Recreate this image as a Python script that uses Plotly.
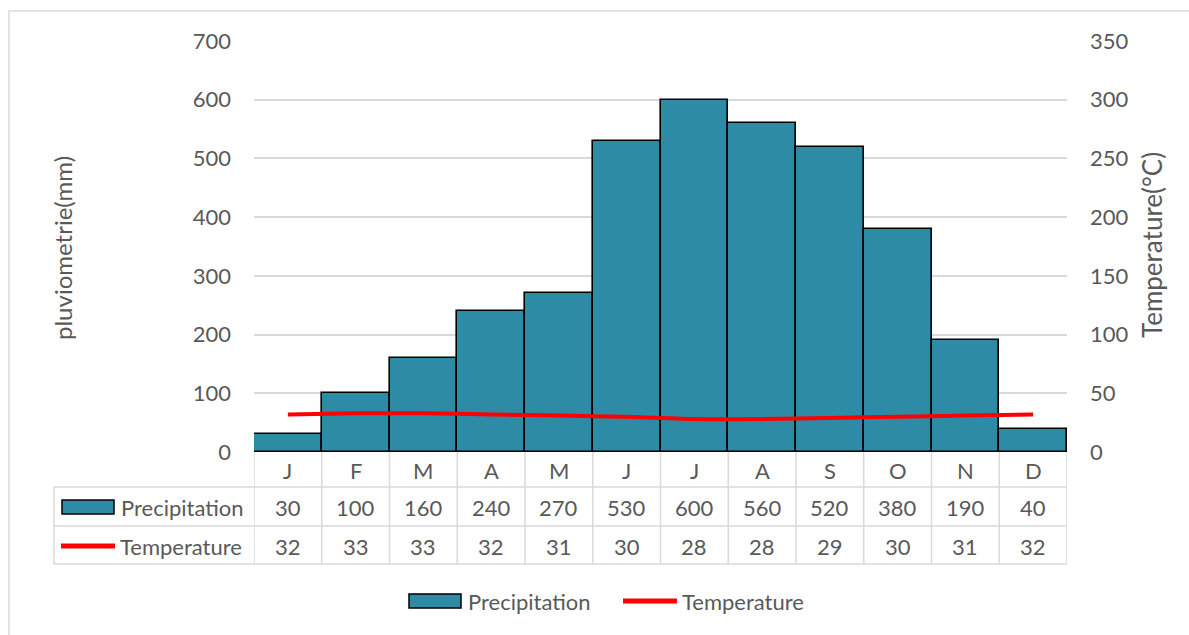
import plotly.graph_objects as go

# Monthly climate data
months = ["J", "F", "M", "A", "M", "J", "J", "A", "S", "O", "N", "D"]
precipitation = [30, 100, 160, 240, 270, 530, 600, 560, 520, 380, 190, 40]
temperature = [32, 33, 33, 32, 31, 30, 28, 28, 29, 30, 31, 32]
left_ticks = [0, 100, 200, 300, 400, 500, 600, 700]
right_ticks = [0, 50, 100, 150, 200, 250, 300, 350]

W, H = 1189, 635
L, R, T, B = 254, 1067, 41, 452          # plot area in pixels
BAR_COLOR = "#2E8BA6"
GRID = "#D9D9D9"
TXT = "#595959"
FONT = "Lato"
FS = 22


def px(x):
    return (x - L) / (R - L)


def py(y):
    return (B - y) / (B - T)


def label(x, y, text, xref="paper", xanchor="center", angle=0, size=FS):
    return dict(x=x, y=y, xref=xref, yref="paper", text=text, textangle=angle,
                xanchor=xanchor, yanchor="middle", showarrow=False,
                font=dict(family=FONT, size=size, color=TXT))


xs = list(range(len(months)))

fig = go.Figure()
fig.add_trace(go.Bar(
    x=xs, y=precipitation, name="Precipitation",
    marker=dict(color=BAR_COLOR, line=dict(color="black", width=1.6)),
    width=1.0, showlegend=False,
))
fig.add_trace(go.Scatter(
    x=xs, y=temperature, name="Temperature", yaxis="y2",
    mode="lines", line=dict(color="#FF0000", width=4, shape="spline", smoothing=0.6),
    showlegend=False,
))

shapes = []
annotations = []

# outer chart frame
shapes.append(dict(type="rect", xref="paper", yref="paper",
                   x0=px(9), x1=px(W + 20), y0=py(11), y1=py(H + 20),
                   line=dict(color=GRID, width=1.5), layer="below"))

# data table grid
for yy in [487, 526, 564]:
    shapes.append(dict(type="line", xref="paper", yref="paper",
                       x0=px(54), x1=1, y0=py(yy), y1=py(yy),
                       line=dict(color=GRID, width=1.5)))
for k in range(len(months) + 1):
    shapes.append(dict(type="line", xref="x", yref="paper",
                       x0=k - 0.5, x1=k - 0.5, y0=0, y1=py(564),
                       line=dict(color=GRID, width=1.5)))
shapes.append(dict(type="line", xref="paper", yref="paper",
                   x0=px(54), x1=px(54), y0=py(487), y1=py(564),
                   line=dict(color=GRID, width=1.5)))

# table cells
row_y = [470, 507, 546]
for k, m in enumerate(months):
    annotations.append(label(k, py(row_y[0]), m, xref="x"))
    annotations.append(label(k, py(row_y[1]), str(precipitation[k]), xref="x"))
    annotations.append(label(k, py(row_y[2]), str(temperature[k]), xref="x"))


def legend_key(x0, yc, text, kind):
    if kind == "bar":
        shapes.append(dict(type="rect", xref="paper", yref="paper",
                           x0=px(x0), x1=px(x0 + 52), y0=py(yc - 7), y1=py(yc + 7),
                           fillcolor=BAR_COLOR, line=dict(color="black", width=1.5)))
    else:
        shapes.append(dict(type="path", xref="paper", yref="paper",
                           path=f"M {px(x0)},{py(yc)} L {px(x0 + 54)},{py(yc)}",
                           line=dict(color="#FF0000", width=5)))
    annotations.append(label(px(x0 + 57), py(yc), text, xanchor="left"))


# keys inside the table
legend_key(62, 507, "Precipitation", "bar")
legend_key(61, 546, "Temperature", "line")
# legend below the chart
legend_key(409, 601, "Precipitation", "bar")
legend_key(623, 601, "Temperature", "line")

# axis titles
annotations.append(label(px(63), py(248), "pluviometrie(mm)", angle=-90, size=24))
annotations.append(label(px(1152), py(245), "Temperature(°C)", angle=-90, size=26))

fig.update_layout(
    width=W, height=H,
    margin=dict(l=L, r=W - R, t=T, b=H - B, pad=0),
    paper_bgcolor="white", plot_bgcolor="white",
    bargap=0,
    font=dict(family=FONT, size=FS, color=TXT),
    xaxis=dict(range=[-0.5, 11.5], showticklabels=False, showgrid=False,
               zeroline=False, showline=False, fixedrange=True),
    yaxis=dict(range=[0, 700], tickvals=left_ticks, showgrid=True, gridcolor=GRID,
               gridwidth=1.5, zeroline=False, showline=False, ticks="",
               ticklabelstandoff=22, tickfont=dict(family=FONT, size=FS, color=TXT)),
    yaxis2=dict(range=[0, 350], tickvals=right_ticks, overlaying="y", side="right",
                showgrid=False, zeroline=False, showline=False, ticks="",
                ticklabelstandoff=22, tickfont=dict(family=FONT, size=FS, color=TXT)),
    shapes=shapes,
    annotations=annotations,
)

fig.write_html("out.html")
